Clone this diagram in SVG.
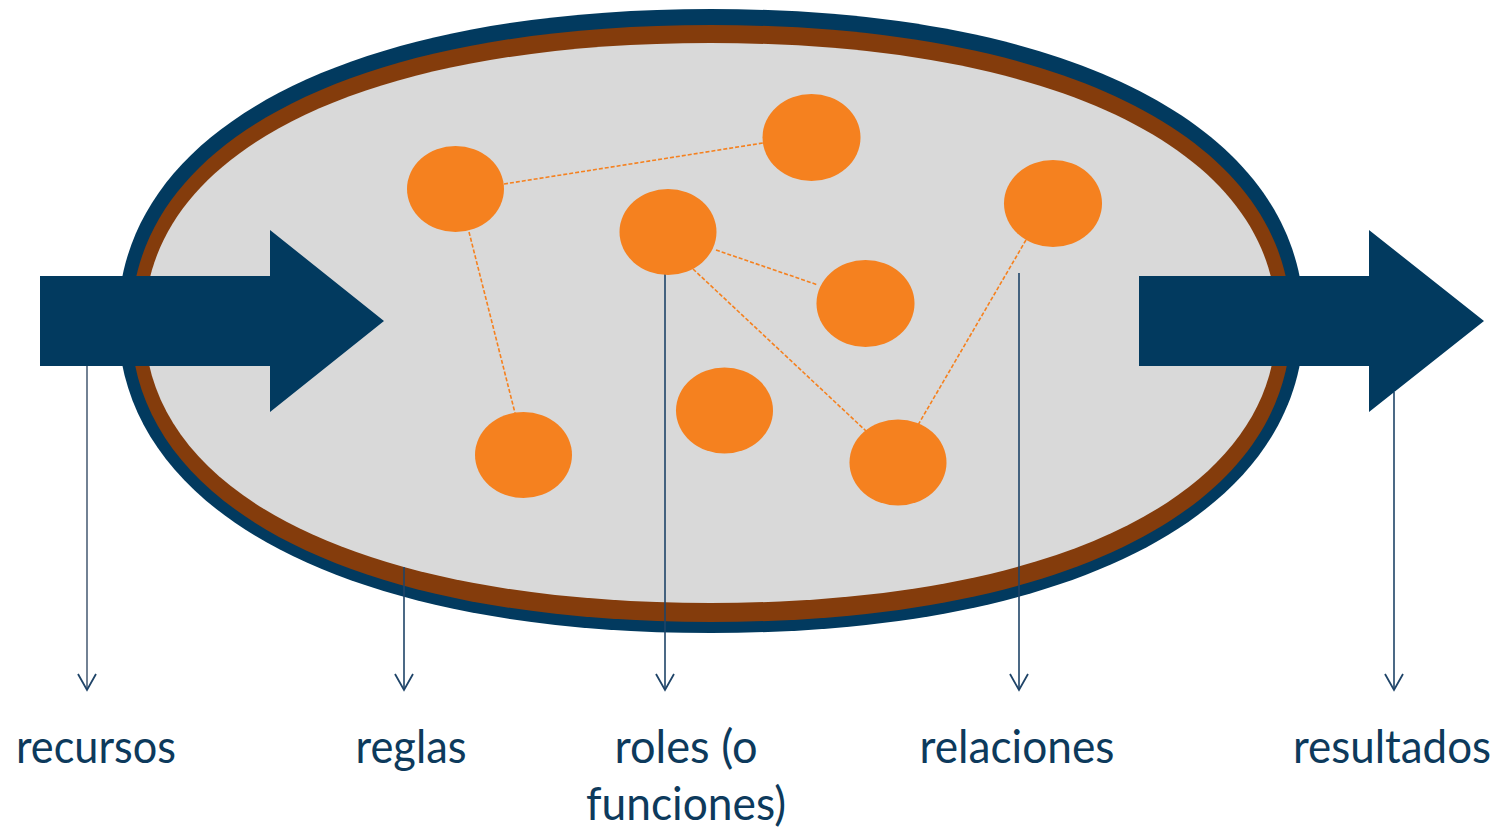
<svg xmlns="http://www.w3.org/2000/svg" width="1512" height="829" viewBox="0 0 1512 829">
  <defs>
    <style>
      .node { fill: #F5811F; }
      .link { stroke: #F5811F; stroke-width: 1.6; stroke-dasharray: 4 2; fill: none; }
      .ptr { stroke: #1F4468; stroke-width: 1.6; fill: none; }
      .label { font-family: "Lato", "Open Sans", "Liberation Sans", sans-serif; font-size: 46px; fill: #0D3A5C; text-anchor: middle; }
      .bigarrow { fill: #023A5F; }
    </style>
    <marker id="vhead" markerWidth="20" markerHeight="20" refX="18" refY="10" orient="auto" markerUnits="userSpaceOnUse" viewBox="0 0 20 20">
      <path d="M2,1 L18,10 L2,19" fill="none" stroke="#1F4468" stroke-width="1.8"/>
    </marker>
  </defs>
  <rect width="1512" height="829" fill="#FFFFFF"/>

  <g id="system">
    <path fill="#023A5F" d="M118,321 C118,129.7 347.5,9 711,9 C1074.5,9 1304,129.7 1304,321 C1304,512.3 1074.5,633 711,633 C347.5,633 118,512.3 118,321 Z"/>
    <path fill="#843C0C" d="M131,323.5 C131,140.5 355.5,25 711,25 C1066.5,25 1291,140.5 1291,323.5 C1291,506.5 1066.5,622 711,622 C355.5,622 131,506.5 131,323.5 Z"/>
    <path fill="#D9D9D9" d="M144.5,323 C144.5,151.4 363.5,43 710.5,43 C1057.5,43 1276.5,151.4 1276.5,323 C1276.5,494.6 1057.5,603 710.5,603 C363.5,603 144.5,494.6 144.5,323 Z"/>
  </g>

  <g id="connectors">
    <line class="link" x1="504" y1="184" x2="763" y2="143"/>
    <line class="link" x1="469" y1="232" x2="515" y2="413"/>
    <line class="link" x1="716" y1="250" x2="818" y2="285"/>
    <line class="link" x1="693" y1="269" x2="866" y2="431"/>
    <line class="link" x1="1026" y1="240" x2="918" y2="425"/>
    <line class="ptr" x1="87" y1="366" x2="87" y2="690" marker-end="url(#vhead)" style="stroke:#4F6279"/>
    <line class="ptr" x1="404" y1="567" x2="404" y2="690" marker-end="url(#vhead)"/>
    <line class="ptr" x1="665" y1="232" x2="665" y2="690" marker-end="url(#vhead)"/>
    <line class="ptr" x1="1019" y1="273" x2="1019" y2="690" marker-end="url(#vhead)"/>
    <line class="ptr" x1="1394" y1="392" x2="1394" y2="690" marker-end="url(#vhead)"/>
  </g>

  <g id="arrow-in">
    <polygon class="bigarrow" points="40,276 270,276 270,230 384,321 270,412 270,366 40,366"/>
  </g>
  <g id="arrow-out">
    <polygon class="bigarrow" points="1139,276 1369,276 1369,230 1484,321 1369,412 1369,366 1139,366"/>
  </g>

  <g id="node-1"><ellipse class="node" cx="455.5" cy="189" rx="48.5" ry="43"/></g>
  <g id="node-2"><ellipse class="node" cx="668" cy="232" rx="48.5" ry="43"/></g>
  <g id="node-3"><ellipse class="node" cx="811.5" cy="137.5" rx="49" ry="43.5"/></g>
  <g id="node-4"><ellipse class="node" cx="865.5" cy="303.5" rx="49" ry="43.5"/></g>
  <g id="node-5"><ellipse class="node" cx="1053" cy="203.5" rx="49" ry="43.5"/></g>
  <g id="node-6"><ellipse class="node" cx="724.5" cy="410.5" rx="48.5" ry="43"/></g>
  <g id="node-7"><ellipse class="node" cx="523.5" cy="455" rx="48.5" ry="43"/></g>
  <g id="node-8"><ellipse class="node" cx="898" cy="462.5" rx="48.5" ry="43"/></g>

  <g id="labels">
    <text class="label" x="96" y="763" textLength="160" lengthAdjust="spacingAndGlyphs">recursos</text>
    <text class="label" x="411" y="763" textLength="111" lengthAdjust="spacingAndGlyphs">reglas</text>
    <text class="label" x="686" y="763" textLength="143" lengthAdjust="spacingAndGlyphs">roles (o</text>
    <text class="label" x="686" y="820" textLength="200" lengthAdjust="spacingAndGlyphs">funciones)</text>
    <text class="label" x="1017" y="763" textLength="195" lengthAdjust="spacingAndGlyphs">relaciones</text>
    <text class="label" x="1392" y="763" textLength="198" lengthAdjust="spacingAndGlyphs">resultados</text>
  </g>
</svg>
